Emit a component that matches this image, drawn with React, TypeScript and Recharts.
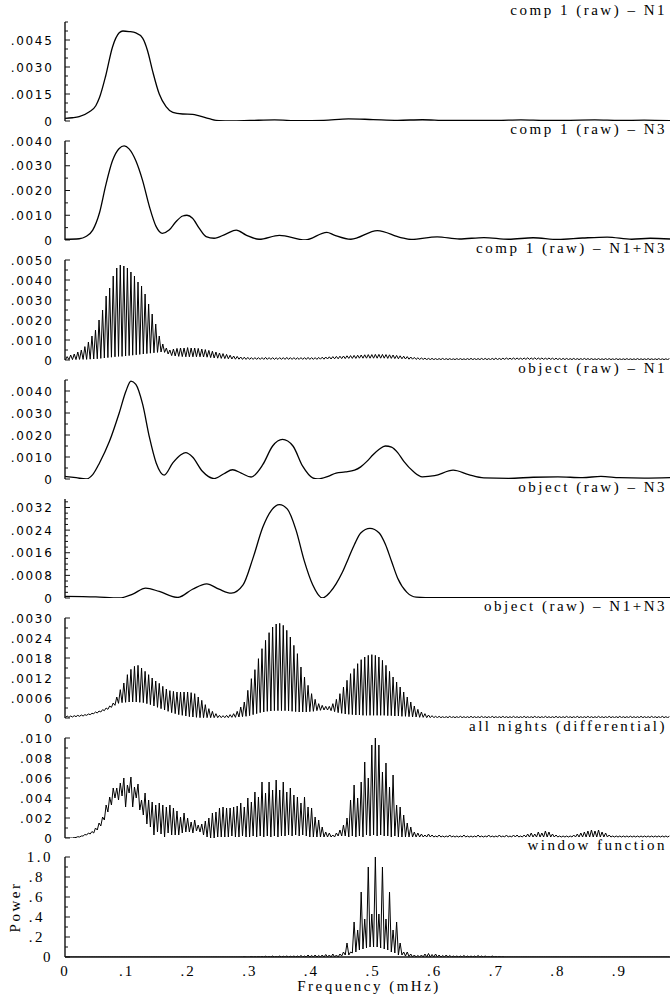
import React from 'react';
import { LineChart, Line, XAxis, YAxis } from 'recharts';

// ---------------- frequency axis ----------------
const FREQ_MAX = 0.982; // mHz at the right edge of the plots
const X_TICKS = [0, 0.1, 0.2, 0.3, 0.4, 0.5, 0.6, 0.7, 0.8, 0.9];

// fringe grid for the combined-night spectra (first maximum, spacing, mHz)
const FRINGE_START = 0.0035;
const FRINGE_STEP = 0.00575;

// ---------------- panel titles ----------------
const TITLES = [
  'comp 1 (raw) – N1',
  'comp 1 (raw) – N3',
  'comp 1 (raw) – N1+N3',
  'object (raw) – N1',
  'object (raw) – N3',
  'object (raw) – N1+N3',
  'all nights (differential)',
  'window function',
];

// ---------------- panel 1: comp 1 (raw) - N1  (power, units 1e-5) ----------------
const P1_FREQ = [0, .012, .023, .039, .05, .056, .066, .077, .088, .094, .104, .115, .126, .134, .142, .153, .164, .175, .191, .207, .218, .234, .25, .27, .3, .34, .38, .42, .46, .5, .54, .58, .62, .66, .7, .74, .78, .82, .86, .9, .94, .982];
const P1_POWER = [15, 18, 24, 50, 85, 130, 250, 410, 490, 500, 497, 490, 460, 390, 280, 150, 80, 48, 39, 37, 28, 13, 2, 1, 3, 6, 2, 4, 12, 8, 4, 7, 3, 4, 3, 6, 3, 4, 6, 3, 5, 2];

// ---------------- panel 2: comp 1 (raw) - N3  (units 1e-5) ----------------
const P2_FREQ = [0, .023, .034, .045, .056, .066, .077, .088, .096, .104, .115, .126, .137, .148, .158, .169, .18, .191, .198, .207, .218, .229, .242, .261, .278, .294, .315, .348, .39, .425, .437, .464, .507, .545, .562, .604, .64, .68, .72, .76, .8, .84, .88, .92, .95, .982];
const P2_POWER = [3, 5, 14, 40, 110, 220, 320, 370, 380, 368, 320, 240, 135, 54, 27, 40, 74, 97, 100, 88, 47, 14, 7, 24, 40, 20, 3, 19, 0, 31, 20, 3, 38, 10, 2, 13, 4, 10, 3, 9, 2, 8, 12, 3, 7, 4];

// ---------------- panel 3: comp 1 (raw) - N1+N3  (fringe maxima / minima, units 1e-5) ----------------
const P3_PEAK = [
  17, 25, 30, 40, 50, 67, 90, 120, 150, 200,
  250, 320, 360, 420, 460, 475, 470, 460, 440, 420,
  390, 370, 330, 280, 230, 180, 120, 80, 60, 50,
  55, 58, 60, 60, 62, 60, 60, 58, 55, 52,
  48, 44, 40, 35, 32, 28, 24, 20, 18, 15,
  14, 13, 12, 12, 12, 12, 13, 12, 12, 11,
  12, 12, 13, 12, 12, 11, 12, 12, 13, 12,
  12, 13, 14, 15, 16, 17, 18, 19, 20, 21,
  22, 23, 24, 25, 26, 27, 27, 28, 28, 28,
  27, 26, 25, 23, 21, 19, 17, 15, 13, 11,
  10, 9, 8, 8, 7, 7, 8, 7, 7, 6,
  7, 7, 6, 7, 8, 7, 7, 8, 8, 7,
  8, 9, 8, 9, 10, 9, 10, 10, 9, 10,
  11, 10, 11, 10, 10, 9, 10, 9, 9, 8,
  8, 8, 7, 8, 7, 7, 8, 7, 7, 6,
  7, 6, 7, 7, 6, 7, 6, 6, 7, 6,
  6, 7, 6, 6, 7, 6, 6, 7, 6, 6,
  7,
];
const P3_TROUGH = [
  0, 2, 2, 2, 3, 3, 3, 4, 5, 6,
  8, 10, 12, 14, 16, 18, 18, 20, 22, 24,
  26, 28, 30, 32, 34, 36, 38, 40, 38, 30,
  22, 20, 18, 17, 16, 16, 16, 16, 16, 15,
  14, 12, 10, 9, 8, 7, 6, 5, 4, 4,
  3, 3, 3, 3, 3, 3, 3, 3, 3, 3,
  3, 3, 3, 3, 3, 3, 3, 3, 3, 3,
  3, 3, 4, 4, 5, 5, 6, 6, 7, 7,
  8, 8, 8, 9, 9, 9, 9, 9, 9, 9,
  9, 8, 8, 7, 6, 6, 5, 4, 4, 3,
  3, 3, 2, 2, 2, 2, 2, 2, 2, 2,
  2, 2, 2, 2, 2, 2, 2, 2, 2, 2,
  2, 2, 2, 2, 3, 3, 3, 3, 3, 3,
  3, 3, 3, 3, 3, 3, 3, 3, 2, 2,
  2, 2, 2, 2, 2, 2, 2, 2, 2, 2,
  2, 2, 2, 2, 2, 2, 2, 2, 2, 2,
  2, 2, 2, 2, 2, 2, 2, 2, 2, 2,
  2,
];

// ---------------- panel 4: object (raw) - N1  (units 1e-5) ----------------
const P4_FREQ = [0, .018, .034, .045, .056, .072, .088, .099, .107, .115, .126, .137, .148, .161, .175, .188, .196, .207, .223, .242, .258, .272, .286, .302, .321, .337, .353, .37, .386, .402, .41, .427, .44, .455, .47, .48, .49, .5, .51, .52, .53, .54, .55, .565, .58, .6, .63, .655, .68, .72, .76, .8, .84, .87, .9, .94, .982];
const P4_POWER = [12, 6, 0, 20, 73, 170, 300, 400, 445, 430, 340, 190, 73, 18, 73, 110, 120, 100, 35, 2, 24, 42, 27, 9, 65, 150, 180, 150, 57, 5, 0, 12, 27, 32, 40, 55, 80, 110, 135, 150, 145, 120, 80, 35, 10, 15, 40, 20, 5, 3, 8, 10, 6, 12, 6, 4, 6];

// ---------------- panel 5: object (raw) - N3  (units 1e-5) ----------------
const P5_FREQ = [0, .05, .088, .11, .131, .153, .183, .207, .23, .25, .27, .289, .305, .321, .335, .348, .361, .375, .388, .402, .418, .43, .44, .45, .46, .47, .48, .495, .51, .52, .53, .54, .555, .57, .6, .7, .8, .9, .982];
const P5_POWER = [6, 4, 0, 14, 35, 23, 2, 31, 50, 31, 17, 46, 140, 250, 310, 330, 314, 240, 134, 47, 0, 20, 50, 90, 140, 190, 230, 246, 230, 190, 130, 70, 20, 3, 1, 1, 1, 1, 1];

// ---------------- panel 6: object (raw) - N1+N3  (units 1e-5) ----------------
const P6_PEAK = [
  6, 6, 7, 8, 9, 10, 12, 14, 18, 21,
  25, 30, 36, 45, 63, 85, 105, 130, 146, 155,
  158, 150, 140, 130, 120, 111, 104, 95, 87, 82,
  80, 78, 78, 78, 78, 76, 73, 63, 53, 40,
  28, 20, 13, 8, 7, 8, 10, 13, 20, 33,
  48, 83, 118, 145, 178, 208, 233, 256, 273, 282,
  284, 278, 263, 243, 218, 193, 153, 123, 98, 73,
  56, 43, 38, 35, 35, 43, 56, 73, 93, 113,
  133, 148, 163, 175, 183, 188, 190, 188, 183, 173,
  158, 140, 123, 108, 93, 78, 63, 48, 36, 26,
  18, 13, 9, 7, 5, 5, 4, 4, 5, 4,
  4, 5, 4, 4, 5, 4, 4, 5, 4, 4,
  5, 4, 4, 5, 4, 4, 5, 4, 4, 5,
  4, 4, 5, 4, 4, 5, 4, 4, 5, 4,
  4, 5, 4, 4, 5, 4, 4, 5, 4, 4,
  5, 4, 4, 5, 4, 4, 5, 4, 4, 5,
  4, 4, 5, 4, 4, 5, 4, 4, 5, 4,
  4,
];
const P6_TROUGH = [
  1, 2, 3, 4, 5, 6, 8, 10, 13, 15,
  18, 22, 26, 32, 38, 44, 46, 47, 48, 48,
  48, 47, 46, 43, 40, 36, 32, 28, 24, 20,
  16, 13, 10, 8, 6, 4, 3, 2, 1, 1,
  1, 1, 1, 1, 1, 1, 1, 2, 2, 3,
  4, 5, 7, 10, 13, 16, 18, 20, 21, 22,
  22, 22, 22, 21, 20, 19, 18, 18, 18, 19,
  20, 22, 23, 24, 24, 22, 19, 16, 14, 12,
  11, 10, 9, 9, 8, 8, 8, 8, 8, 8,
  8, 7, 7, 6, 6, 5, 5, 4, 3, 3,
  2, 2, 1, 1, 1, 1, 1, 1, 1, 1,
  1, 1, 1, 1, 1, 1, 1, 1, 1, 1,
  1, 1, 1, 1, 1, 1, 1, 1, 1, 1,
  1, 1, 1, 1, 1, 1, 1, 1, 1, 1,
  1, 1, 1, 1, 1, 1, 1, 1, 1, 1,
  1, 1, 1, 1, 1, 1, 1, 1, 1, 1,
  1, 1, 1, 1, 1, 1, 1, 1, 1, 1,
  1,
];

// ---------------- panel 7: all nights (differential)  (units 1e-4) ----------------
const P7_PEAK = [
  0, 0, 0.5, 1.3, 2, 3.5, 5, 6.5, 10, 15,
  21, 33, 41, 50, 50, 55, 60, 53, 61, 51,
  54, 38, 45, 38, 36, 33, 35, 33, 31, 33,
  30, 27, 21, 25, 20, 16, 18, 13, 14, 17,
  20, 25, 26, 30, 31, 30, 30, 31, 32, 35,
  31, 40, 36, 46, 41, 56, 45, 56, 48, 58,
  48, 56, 46, 50, 43, 41, 35, 41, 31, 30,
  21, 18, 11, 6, 5, 3, 5, 8, 13, 20,
  38, 53, 40, 56, 76, 60, 93, 103, 93, 66,
  75, 51, 63, 33, 31, 23, 15, 11, 6, 5,
  4, 3, 4, 3, 2, 3, 2, 2, 3, 2,
  2, 2, 3, 2, 2, 2, 3, 2, 2, 3,
  2, 2, 3, 2, 3, 2, 3, 3, 2, 3,
  4, 5, 4, 6, 5, 7, 6, 4, 3, 2,
  2, 2, 2, 3, 4, 5, 6, 7, 8, 7,
  8, 6, 5, 3, 2, 2, 2, 2, 2, 2,
  2, 2, 2, 2, 2, 2, 2, 2, 2, 2,
  2,
];
const P7_TROUGH = [
  0, 0, 0, 0.5, 1, 2, 3, 4, 5, 8,
  12, 18, 26, 33, 40, 38, 42, 31, 45, 31,
  40, 28, 23, 14, 11, 3, 6, 4, 1, 5,
  3, 3, 3, 5, 6, 6, 5, 7, 6, 3,
  1, 0, 0, 1, 1, 1, 1, 2, 1, 1,
  2, 1, 1, 2, 1, 2, 1, 2, 1, 2,
  1, 2, 2, 3, 2, 3, 2, 3, 2, 1,
  1, 1, 1, 1, 1, 1, 1, 2, 2, 2,
  1, 2, 1, 2, 1, 3, 2, 3, 2, 3,
  2, 2, 1, 2, 1, 1, 1, 1, 1, 1,
  1, 1, 1, 1, 1, 1, 1, 1, 1, 1,
  1, 1, 1, 1, 1, 1, 1, 1, 1, 1,
  1, 1, 1, 1, 1, 1, 1, 1, 1, 1,
  1, 1, 1, 1, 1, 1, 1, 1, 1, 1,
  1, 1, 1, 1, 1, 1, 1, 1, 1, 1,
  1, 1, 1, 1, 1, 1, 1, 1, 1, 1,
  1, 1, 1, 1, 1, 1, 1, 1, 1, 1,
  1,
];

// ---------------- panel 8: window function  (units 1e-2) ----------------
const P8_PEAK = [
  0, 0, 0, 0, 0, 0, 0, 0, 0, 0,
  0, 0, 0, 0, 0, 0, 0, 0, 0, 0,
  0, 0, 0, 0, 0, 0, 0, 0, 0, 0,
  0, 0, 0, 0, 0, 0, 0, 0, 0, 0,
  0, 0, 0, 0, 0, 0, 0, 0, 0, 0,
  0.3, 0, 0.5, 0.3, 0.5, 0.5, 0.8, 0.5, 1, 0.5,
  1, 0.8, 1, 0.8, 1, 1, 1.5, 1, 2, 1.5,
  2, 1.5, 2, 2.5, 2, 3, 2, 3, 5, 14,
  5, 35, 27, 65, 38, 90, 43, 100, 43, 90,
  38, 65, 27, 35, 14, 5, 5, 3, 2, 1.5,
  2, 3, 3.5, 2.5, 3, 2, 1.5, 2, 1.5, 1,
  1, 1, 1.5, 1, 1, 1, 1.5, 1, 1, 0.5,
  1, 0.5, 0.5, 0.3, 0, 0, 0, 0, 0, 0,
  0, 0, 0, 0, 0, 0, 0, 0, 0, 0,
  0, 0, 0, 0, 0, 0, 0, 0, 0, 0,
  0, 0, 0, 0, 0, 0, 0, 0, 0, 0,
  0, 0, 0, 0, 0, 0, 0, 0, 0, 0,
  0,
];
const P8_TROUGH = [
  0, 0, 0, 0, 0, 0, 0, 0, 0, 0,
  0, 0, 0, 0, 0, 0, 0, 0, 0, 0,
  0, 0, 0, 0, 0, 0, 0, 0, 0, 0,
  0, 0, 0, 0, 0, 0, 0, 0, 0, 0,
  0, 0, 0, 0, 0, 0, 0, 0, 0, 0,
  0, 0, 0, 0, 0, 0, 0, 0, 0, 0,
  0, 0, 0, 0, 0, 0, 0, 0, 0, 0,
  0, 0, 0, 0, 0, 0, 0, 0, 1, 2,
  2, 4, 5, 7, 8, 9, 10, 10, 10, 9,
  8, 7, 5, 4, 2, 2, 1, 0.5, 0, 0,
  0, 0, 0, 0, 0, 0, 0, 0, 0, 0,
  0, 0, 0, 0, 0, 0, 0, 0, 0, 0,
  0, 0, 0, 0, 0, 0, 0, 0, 0, 0,
  0, 0, 0, 0, 0, 0, 0, 0, 0, 0,
  0, 0, 0, 0, 0, 0, 0, 0, 0, 0,
  0, 0, 0, 0, 0, 0, 0, 0, 0, 0,
  0, 0, 0, 0, 0, 0, 0, 0, 0, 0,
  0,
];

// ---------------- y-axis ticks ----------------
const P1_TICKS = [0, 0.0015, 0.003, 0.0045];
const P2_TICKS = [0, 0.001, 0.002, 0.003, 0.004];
const P3_TICKS = [0, 0.001, 0.002, 0.003, 0.004, 0.005];
const P4_TICKS = [0, 0.001, 0.002, 0.003, 0.004];
const P5_TICKS = [0, 0.0008, 0.0016, 0.0024, 0.0032];
const P6_TICKS = [0, 0.0006, 0.0012, 0.0018, 0.0024, 0.003];
const P7_TICKS = [0, 0.002, 0.004, 0.006, 0.008, 0.01];
const P8_TICKS = [0, 0.2, 0.4, 0.6, 0.8, 1];

// ---------------- table builders ----------------
type Row = { f: number; v: number };

const smoothRows = (freq: number[], vals: number[], unit: number): Row[] =>
  freq.map((f, i) => ({ f, v: vals[i] * unit }));

const fringeRows = (peaks: number[], troughs: number[], unit: number): Row[] => {
  const rows: Row[] = [];
  for (let k = 0; k < peaks.length; k++) {
    rows.push({ f: FRINGE_START + (k - 0.5) * FRINGE_STEP, v: troughs[k] * unit });
    rows.push({ f: FRINGE_START + k * FRINGE_STEP, v: peaks[k] * unit });
  }
  return rows;
};

// ---------------- styles ----------------
const AXIS = '#111';
const TITLE_SPACE = 24;
const BOTTOM_PAD = 10;
const sansStyle: React.CSSProperties = {
  fontFamily: '"DejaVu Sans", sans-serif',
  fontSize: 12,
  letterSpacing: 1.7,
  fill: '#000',
};
const serifStyle: React.CSSProperties = {
  fontFamily: '"Liberation Serif", serif',
  fontSize: 15,
  letterSpacing: 2.5,
  fill: '#000',
};

function fmt(v: number, d: number): string {
  if (Math.abs(v) < 1e-12) return '0';
  const s = v.toFixed(d);
  return s.startsWith('0.') ? s.slice(1) : s;
}

type PanelProps = {
  top: number;
  h: number;
  data: Row[];
  max: number;
  majors: number[];
  minorStep: number;
  decimals: number;
  curve: 'monotone' | 'linear';
  strokeWidth: number;
  last?: boolean;
};

function Panel(p: PanelProps) {
  const minors: number[] = [];
  for (let i = 0; i * p.minorStep <= p.max + 1e-12; i++) minors.push(+(i * p.minorStep).toFixed(10));
  const all = [...minors];
  p.majors.forEach((m) => {
    if (!all.some((t) => Math.abs(t - m) < p.minorStep * 1e-3)) all.push(m);
  });
  all.sort((a, b) => a - b);
  const isMajor = (v: number) => p.majors.some((m) => Math.abs(m - v) < p.minorStep * 1e-3);
  const bottomH = p.last ? 44 : 0;

  const yTick = (props: any) => {
    const { x, y, payload } = props;
    const v = payload.value as number;
    const major = isMajor(v);
    const label = fmt(v, p.decimals);
    const lx = p.last ? (label.startsWith('.') ? x - 20 : x - 12) : x - 11.5;
    return (
      <g>
        <line x1={x} x2={x + (major ? 5 : 3)} y1={y} y2={y} stroke={AXIS} strokeWidth={1} />
        {major && (
          <text x={lx} y={y} dy={p.last ? 5 : 4.5} textAnchor="end" style={p.last ? serifStyle : sansStyle}>
            {label}
          </text>
        )}
      </g>
    );
  };

  const xTick = (props: any) => {
    const { x, y, payload } = props;
    return (
      <text x={x} y={y + 19} textAnchor="middle" style={{ ...serifStyle, letterSpacing: 2 }}>
        {fmt(payload.value, 1)}
      </text>
    );
  };

  const topTick = (props: any) => {
    const { x, y } = props;
    if (x < 66) return <g />;
    return <line x1={x} x2={x} y1={y} y2={y + 4} stroke={AXIS} strokeWidth={1} />;
  };

  return (
    <div style={{ position: 'absolute', left: 0, top: p.top - TITLE_SPACE }}>
      <LineChart
        width={670}
        height={TITLE_SPACE + p.h + BOTTOM_PAD + bottomH}
        data={p.data}
        margin={{ top: TITLE_SPACE, right: 0, bottom: BOTTOM_PAD, left: 0 }}
      >
        <XAxis
          dataKey="f"
          type="number"
          domain={[0, FREQ_MAX]}
          allowDataOverflow
          ticks={X_TICKS}
          interval={0}
          height={bottomH}
          tick={p.last ? xTick : false}
          tickLine={false}
          tickSize={0}
          tickMargin={0}
          axisLine={{ stroke: AXIS, strokeWidth: 1.4 }}
        />
        <XAxis
          xAxisId="top"
          orientation="top"
          dataKey="f"
          type="number"
          domain={[0, FREQ_MAX]}
          allowDataOverflow
          ticks={X_TICKS}
          interval={0}
          height={0}
          tick={p.last ? topTick : false}
          tickLine={false}
          tickSize={0}
          tickMargin={0}
          axisLine={{ stroke: AXIS, strokeWidth: 1.4 }}
        />
        <YAxis
          type="number"
          domain={[0, p.max]}
          allowDataOverflow
          ticks={all}
          interval={0}
          width={65}
          tick={yTick}
          tickLine={false}
          tickSize={0}
          tickMargin={0}
          axisLine={{ stroke: AXIS, strokeWidth: 1.4 }}
        />
        <Line
          dataKey="v"
          type={p.curve}
          stroke="#000"
          strokeWidth={p.strokeWidth}
          strokeLinejoin="round"
          dot={false}
          activeDot={false}
          isAnimationActive={false}
        />
      </LineChart>
    </div>
  );
}

// ---------------- layout (plot top, plot height) ----------------
const LAYOUT = [
  { top: 22, h: 99 },
  { top: 141, h: 99 },
  { top: 260, h: 100 },
  { top: 380, h: 99 },
  { top: 499, h: 99 },
  { top: 618, h: 100 },
  { top: 738, h: 100 },
  { top: 857, h: 100 },
];

export default function App() {
  const d1 = smoothRows(P1_FREQ, P1_POWER, 1e-5);
  const d2 = smoothRows(P2_FREQ, P2_POWER, 1e-5);
  const d3 = fringeRows(P3_PEAK, P3_TROUGH, 1e-5);
  const d4 = smoothRows(P4_FREQ, P4_POWER, 1e-5);
  const d5 = smoothRows(P5_FREQ, P5_POWER, 1e-5);
  const d6 = fringeRows(P6_PEAK, P6_TROUGH, 1e-5);
  const d7 = fringeRows(P7_PEAK, P7_TROUGH, 1e-4);
  const d8 = fringeRows(P8_PEAK, P8_TROUGH, 1e-2);

  return (
    <div style={{ position: 'absolute', left: 0, top: 0, width: 670, height: 999, background: '#fff', overflow: 'hidden' }}>
      <Panel {...LAYOUT[0]} data={d1} max={0.0055} majors={P1_TICKS} minorStep={0.0005} decimals={4} curve="monotone" strokeWidth={1.3} />
      <Panel {...LAYOUT[1]} data={d2} max={0.004} majors={P2_TICKS} minorStep={0.0005} decimals={4} curve="monotone" strokeWidth={1.3} />
      <Panel {...LAYOUT[2]} data={d3} max={0.005} majors={P3_TICKS} minorStep={0.0005} decimals={4} curve="linear" strokeWidth={1} />
      <Panel {...LAYOUT[3]} data={d4} max={0.0045} majors={P4_TICKS} minorStep={0.0005} decimals={4} curve="monotone" strokeWidth={1.3} />
      <Panel {...LAYOUT[4]} data={d5} max={0.0035} majors={P5_TICKS} minorStep={0.0002} decimals={4} curve="monotone" strokeWidth={1.3} />
      <Panel {...LAYOUT[5]} data={d6} max={0.003} majors={P6_TICKS} minorStep={0.0003} decimals={4} curve="linear" strokeWidth={1} />
      <Panel {...LAYOUT[6]} data={d7} max={0.01} majors={P7_TICKS} minorStep={0.001} decimals={3} curve="linear" strokeWidth={1} />
      <Panel {...LAYOUT[7]} data={d8} max={1} majors={P8_TICKS} minorStep={0.1} decimals={1} curve="linear" strokeWidth={1} last />
      <svg width={670} height={999} style={{ position: 'absolute', left: 0, top: 0, pointerEvents: 'none' }}>
        {TITLES.map((t, i) => (
          <text key={t} x={667} y={LAYOUT[i].top - 7} textAnchor="end" style={serifStyle}>
            {t}
          </text>
        ))}
        <text x={369} y={991} textAnchor="middle" style={serifStyle}>
          Frequency (mHz)
        </text>
        <text transform="translate(20, 907) rotate(-90)" textAnchor="middle" style={serifStyle}>
          Power
        </text>
      </svg>
    </div>
  );
}
